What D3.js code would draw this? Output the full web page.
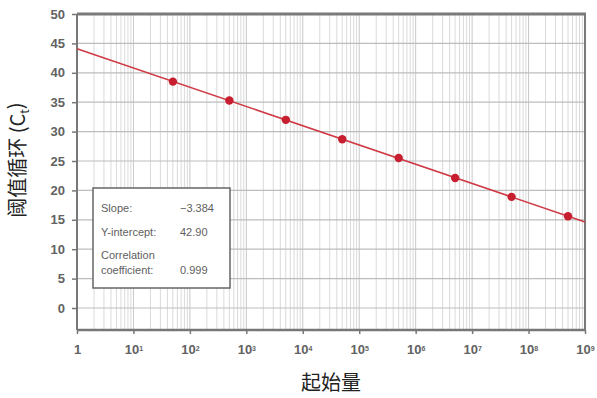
<!DOCTYPE html>
<html>
<head>
<meta charset="utf-8">
<script src="https://cdn.jsdelivr.net/npm/d3@7"></script>
<style>
  html, body { margin: 0; padding: 0; background: #fff; }
  svg { display: block; }
  .tick-label { font-family: "Liberation Sans Narrow", "Liberation Sans", Arial, sans-serif; fill: #626262; font-weight: bold; }
  .stat { font-family: "Liberation Sans Narrow", "Liberation Sans", Arial, sans-serif; fill: #606060; font-size: 11px; }
  .title { font-family: "Noto Sans CJK SC", "Noto Sans", sans-serif; fill: #222; font-size: 20px; }
</style>
</head>
<body>
<svg id="chart" width="597" height="398"></svg>
<script>
// Standard curve: starting quantity (log scale) vs threshold cycle
const quantities = [5e1, 5e2, 5e3, 5e4, 5e5, 5e6, 5e7, 5e8];
const ctValues = [38.5, 35.3, 32.0, 28.7, 25.5, 22.1, 18.9, 15.6];

const xTickValues = [1, 1e1, 1e2, 1e3, 1e4, 1e5, 1e6, 1e7, 1e8, 1e9];
const xTickExponents = ["", "1", "2", "3", "4", "5", "6", "7", "8", "9"];
const yTickValues = [0, 5, 10, 15, 20, 25, 30, 35, 40, 45, 50];

const statNames = ["Slope:", "Y-intercept:", "Correlation", "coefficient:"];
const statValues = ["\u22123.384", "42.90", "", "0.999"];

const svg = d3.select("#chart");
const plotLeft = 77, plotRight = 585, plotTop = 14, plotBottom = 330;

const x = d3.scaleLog().domain([1, 1e9]).range([plotLeft, plotRight]);
const y = d3.scaleLinear().domain([0, 50]).range([308, plotTop]);

// Vertical log grid: minor lines at 2..9 within each decade
const minor = [];
for (let e = 0; e < 9; e++) {
  for (let m = 2; m <= 9; m++) minor.push(m * Math.pow(10, e));
}
svg.append("g").selectAll("line").data(minor).join("line")
  .attr("x1", d => x(d)).attr("x2", d => x(d))
  .attr("y1", plotTop).attr("y2", plotBottom)
  .attr("stroke", "#dadada").attr("stroke-width", 1);
svg.append("g").selectAll("line").data(xTickValues.slice(1, -1)).join("line")
  .attr("x1", d => x(d)).attr("x2", d => x(d))
  .attr("y1", plotTop).attr("y2", plotBottom)
  .attr("stroke", "#c8c8c8").attr("stroke-width", 1);

// Horizontal grid
svg.append("g").selectAll("line").data(yTickValues.slice(0, -1)).join("line")
  .attr("x1", plotLeft).attr("x2", plotRight)
  .attr("y1", d => y(d)).attr("y2", d => y(d))
  .attr("stroke", "#bdbdbd").attr("stroke-width", 1.2);

// Frame: top and right edges
svg.append("line").attr("x1", plotLeft).attr("x2", plotRight + 1).attr("y1", plotTop).attr("y2", plotTop)
  .attr("stroke", "#7a7a7a").attr("stroke-width", 3);
svg.append("line").attr("x1", plotRight).attr("x2", plotRight).attr("y1", plotTop).attr("y2", plotBottom)
  .attr("stroke", "#7a7a7a").attr("stroke-width", 2);

// Y axis
const yAxis = d3.axisLeft(y).tickValues(yTickValues).tickSize(5).tickPadding(7);
const gy = svg.append("g").attr("transform", `translate(${plotLeft},0)`).call(yAxis);
gy.select(".domain").attr("d", `M0,${plotTop}V${plotBottom}`).attr("stroke", "#777").attr("stroke-width", 2);
gy.selectAll(".tick line").attr("stroke", "#777").attr("stroke-width", 1.5);
gy.selectAll(".tick text").attr("class", "tick-label").style("font-size", "13px");

// X axis
const xAxis = d3.axisBottom(x).tickValues(xTickValues).tickSize(4).tickPadding(11).tickFormat(() => "");
const gx = svg.append("g").attr("transform", `translate(0,${plotBottom})`).call(xAxis);
gx.select(".domain").attr("d", `M${plotLeft},0H${plotRight + 1}`).attr("stroke", "#777").attr("stroke-width", 2.5);
gx.selectAll(".tick line").attr("stroke", "#777").attr("stroke-width", 1.5);
gx.selectAll(".tick text").each(function(d, i) {
  const t = d3.select(this).attr("class", "tick-label").style("font-size", "13px");
  if (i === 0) { t.text("1"); return; }
  t.append("tspan").text("10");
  t.append("tspan").attr("dy", "-0.5em").style("font-size", "7px").text(xTickExponents[i]);
});

// Regression line fitted to the plotted points (Ct vs log10 quantity)
const lx = quantities.map(q => Math.log10(q));
const mx = d3.mean(lx), my = d3.mean(ctValues);
const slope = d3.sum(lx, (v, i) => (v - mx) * (ctValues[i] - my)) / d3.sum(lx, v => (v - mx) ** 2);
const intercept = my - slope * mx;
const fitEnds = [1, 1e9];
svg.append("line")
  .attr("x1", x(fitEnds[0])).attr("y1", y(intercept + slope * Math.log10(fitEnds[0])))
  .attr("x2", x(fitEnds[1])).attr("y2", y(intercept + slope * Math.log10(fitEnds[1])))
  .attr("stroke", "#cf3a45").attr("stroke-width", 1.6);

// Data points
svg.append("g").selectAll("circle").data(quantities).join("circle")
  .attr("cx", d => x(d)).attr("cy", (d, i) => y(ctValues[i]))
  .attr("r", 4.2).attr("fill", "#c81f30");

// Statistics box
const box = svg.append("g");
box.append("rect").attr("x", 93).attr("y", 188).attr("width", 137).attr("height", 100)
  .attr("fill", "#fff").attr("stroke", "#666").attr("stroke-width", 1.5);
const rowsY = [212, 236, 259, 274];
statNames.forEach((n, i) => {
  box.append("text").attr("class", "stat").attr("x", 101).attr("y", rowsY[i]).text(n);
  if (statValues[i]) box.append("text").attr("class", "stat").attr("x", 180).attr("y", rowsY[i]).text(statValues[i]);
});

// Axis titles
svg.append("text").attr("class", "title").attr("text-anchor", "middle")
  .attr("x", 331).attr("y", 390).text("起始量");
const yt = svg.append("text").attr("class", "title").attr("text-anchor", "middle")
  .attr("transform", "translate(25,160) rotate(-90)");
yt.append("tspan").text("阈值循环 (C");
yt.append("tspan").attr("dy", "0.3em").style("font-size", "12px").text("t");
yt.append("tspan").attr("dy", "-0.3em").text(")");
</script>
</body>
</html>
